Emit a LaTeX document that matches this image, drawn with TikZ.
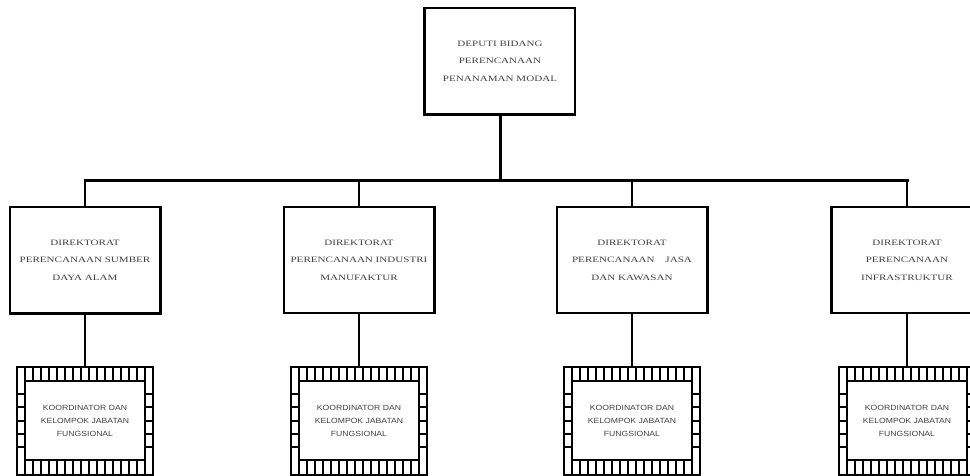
\documentclass[tikz,border=0pt]{standalone}
\usepackage{fontspec}
\newfontfamily\orgserif[FakeStretch=1.35]{Liberation Serif}
\newfontfamily\orgsans[FakeStretch=1.15]{Liberation Sans}

\tikzset{
  unitbox/.style={draw=black, line width=1.2pt, align=center, inner sep=0pt,
    minimum width=150pt, minimum height=106pt, text=black!75,
    font=\orgserif\fontsize{8.2}{17.5}\selectfont},
  groupbox/.style={align=center, inner sep=0pt, minimum width=136pt,
    minimum height=108pt, text=black!75,
    font=\orgsans\fontsize{7.5}{13}\selectfont},
  heavy/.style={line width=3pt},
  link/.style={line width=1.5pt},
  stripe/.style={line width=2pt},
}

\begin{document}
\begin{tikzpicture}[x=1pt, y=-1pt, draw=black]
\clip (0,0) rectangle (970,475);
\useasboundingbox (0,0) rectangle (970,475);

\node[unitbox] (deputi) at (500,61) {DEPUTI BIDANG\\PERENCANAAN\\PENANAMAN MODAL};
\draw[heavy] (deputi.north west) -- (deputi.south west) -- (deputi.south east);

\node[unitbox] (dir1) at (85,260) {DIREKTORAT\\PERENCANAAN SUMBER\\DAYA ALAM};
\node[unitbox] (dir2) at (359,260) {DIREKTORAT\\PERENCANAAN INDUSTRI\\MANUFAKTUR};
\node[unitbox] (dir3) at (632,260) {DIREKTORAT\\PERENCANAAN \quad JASA\\DAN KAWASAN};
\node[unitbox] (dir4) at (907,260) {DIREKTORAT\\PERENCANAAN\\INFRASTRUKTUR};
\draw[heavy] (dir1.north east) -- (dir1.south east) -- (dir1.south west);
\draw[heavy] (dir2.north east) -- (dir2.south east);
\draw[heavy] (dir3.north east) -- (dir3.south east);
\draw[heavy] (dir4.north west) -- (dir4.south west);

% bar between deputi and directorates
\coordinate (bar) at (500,180);
\draw[heavy] (deputi.south) -- (bar);
\draw[heavy, line cap=rect] (dir1.north |- bar) -- (dir4.north |- bar);
\foreach \n in {1,...,4}
  \draw[link] (dir\n.north |- bar) -- (dir\n.north);

% koordinator boxes with striped frame
\foreach \n/\cx in {1/85,2/359,3/632,4/907} {
  \node[groupbox] (koord\n) at (\cx,421) {KOORDINATOR DAN\\KELOMPOK JABATAN\\FUNGSIONAL};
  \draw[link] (dir\n.south) -- (koord\n.north);
  \begin{scope}[shift={(\cx,421)}]
    \draw[stripe] (-68,-54) rectangle (68,54);
    \draw[stripe] (-60,-40) rectangle (60,39);
    \foreach \k in {1,...,16} {
      \draw[stripe] (-68+8*\k,-54) -- (-68+8*\k,-40);
      \draw[stripe] (-68+8*\k,39) -- (-68+8*\k,54);
    }
    \foreach \k in {1,...,5} {
      \draw[stripe] (-68,-40+13.2*\k) -- (-60,-40+13.2*\k);
      \draw[stripe] (60,-40+13.2*\k) -- (68,-40+13.2*\k);
    }
  \end{scope}
}
\end{tikzpicture}
\end{document}
